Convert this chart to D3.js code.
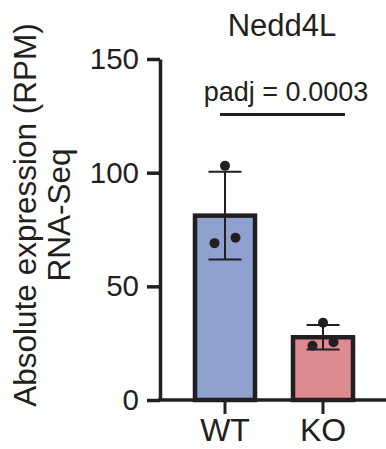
<!DOCTYPE html>
<html>
<head>
<meta charset="utf-8">
<script src="https://cdn.jsdelivr.net/npm/d3@7"></script>
<style>
  body { margin: 0; background: #fff; }
  text { font-family: "Liberation Sans", Arial, sans-serif; fill: #231f20; }
</style>
</head>
<body>
<div id="chart"></div>
<script>
// data
const groups = ["WT", "KO"];
const means = [81.1, 27.6];
const sds = [19.3, 5.4];
const points = [[103, 69, 71.4], [34, 23.9, 25.4]];
const yTicks = [0, 50, 100, 150];
const fills = ["#8fa2cf", "#de8a91"];

const ink = "#231f20";
const jitter = [0, -10.5, 10.5];

var svg = d3.select("#chart").append("svg").attr("width", 386).attr("height", 449);

var x = d3.scaleBand().domain(groups).range([176, 372]).padding(0);
var y = d3.scaleLinear().domain([0, 150]).range([400, 59]);
var barW = 60;

// bars
svg.append("g").selectAll("rect")
	.data(groups)
	.enter().append("rect")
	.attr("x", d => x(d) + x.bandwidth() / 2 - barW / 2)
	.attr("y", (d, i) => y(means[i]))
	.attr("width", barW)
	.attr("height", (d, i) => y(0) - y(means[i]))
	.attr("fill", (d, i) => fills[i])
	.attr("stroke", ink)
	.attr("stroke-width", 4.5);

// error bars
var eb = svg.append("g").attr("stroke", ink).attr("stroke-width", 2);
groups.forEach(function(g, i) {
	var cx = x(g) + x.bandwidth() / 2;
	eb.append("line").attr("x1", cx).attr("x2", cx)
		.attr("y1", y(means[i] + sds[i])).attr("y2", y(means[i] - sds[i]));
	[means[i] + sds[i], means[i] - sds[i]].forEach(function(v) {
		eb.append("line").attr("x1", cx - 16.5).attr("x2", cx + 16.5)
			.attr("y1", y(v)).attr("y2", y(v));
	});
});

// dots
groups.forEach(function(g, i) {
	var cx = x(g) + x.bandwidth() / 2;
	svg.append("g").selectAll("circle")
		.data(points[i])
		.enter().append("circle")
		.attr("cx", (d, j) => cx + jitter[j])
		.attr("cy", d => y(d))
		.attr("r", 5)
		.attr("fill", ink);
});

// y axis
svg.append("g")
	.attr("transform", "translate(160,0)")
	.call(d3.axisLeft(y).tickValues(yTicks).tickSize(13).tickPadding(8).tickSizeOuter(0))
	.call(g => g.select(".domain").attr("stroke", ink).attr("stroke-width", 3.5))
	.call(g => g.selectAll(".tick line").attr("stroke", ink).attr("stroke-width", 3.5))
	.call(g => g.selectAll(".tick text").attr("font-size", 29.5).attr("fill", ink)
		.attr("font-family", "Liberation Sans, Arial, sans-serif"));

// x axis
svg.append("line").attr("x1", 158).attr("x2", 386).attr("y1", 400).attr("y2", 400)
	.attr("stroke", ink).attr("stroke-width", 3.5);
svg.append("g")
	.attr("transform", "translate(0,400)")
	.call(d3.axisBottom(x).tickSize(14).tickPadding(4).tickSizeOuter(0))
	.call(g => g.select(".domain").remove())
	.call(g => g.selectAll(".tick line").attr("stroke", ink).attr("stroke-width", 3))
	.call(g => g.selectAll(".tick text").attr("font-size", 32).attr("fill", ink)
		.attr("font-family", "Liberation Sans, Arial, sans-serif"));

// y label
var yl = svg.append("text")
	.attr("transform", "translate(36,215) rotate(-90)")
	.attr("text-anchor", "middle")
	.attr("font-size", 31.5);
yl.append("tspan").attr("x", 0).attr("y", 0).text("Absolute expression (RPM)");
yl.append("tspan").attr("x", 0).attr("y", 34).text("RNA-Seq");

// title
svg.append("text").attr("x", 282).attr("y", 36).attr("text-anchor", "middle")
	.attr("font-size", 31).text("Nedd4L");

// significance
svg.append("line").attr("x1", 220).attr("x2", 345).attr("y1", 114.5).attr("y2", 114.5)
	.attr("stroke", ink).attr("stroke-width", 3);
svg.append("text").attr("x", 286).attr("y", 101).attr("text-anchor", "middle")
	.attr("font-size", 27).text("padj = 0.0003");
</script>
</body>
</html>
